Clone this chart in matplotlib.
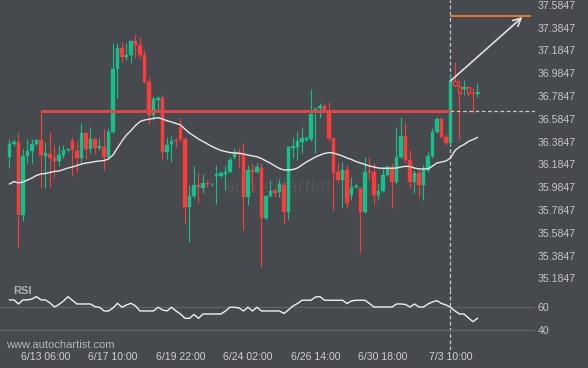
"""Autochartist-style breakout chart: candles, MA, resistance, forecast, RSI."""

import numpy as np
import matplotlib
matplotlib.use('Agg')
import matplotlib.pyplot as plt

plt.rcParams['font.family'] = ['Liberation Sans', 'DejaVu Sans']

# --- data (4h candles) ---
opens = [36.250, 36.364, 36.381, 35.741, 36.259, 36.302, 36.364, 36.399, 36.259, 36.276,
         36.244, 36.217, 36.267, 36.311, 36.390, 36.302, 36.244, 36.460, 36.317, 36.405,
         36.333, 36.340, 36.252, 36.472, 37.019, 37.203, 37.130, 37.145, 37.267, 37.232,
         37.145, 36.910, 36.618, 36.750, 36.765, 36.296, 36.367, 36.399, 36.510, 36.408,
         35.814, 35.908, 36.004, 35.980, 36.024, 36.009, 36.086, 36.086, 36.101, 36.121,
         36.247, 36.296, 36.276, 35.901, 36.136, 36.121, 36.156, 35.717, 35.910, 35.952,
         35.943, 36.004, 35.770, 36.329, 36.335, 36.384, 36.399, 36.405, 36.647, 36.677,
         36.697, 36.647, 36.414, 36.121, 36.048, 36.136, 35.917, 35.989, 35.980, 35.770,
         36.127, 36.121, 35.917, 35.952, 36.092, 36.165, 36.033, 36.252, 36.434, 36.223,
         36.031, 36.107, 36.004, 36.136, 36.259, 36.472, 36.581, 36.428, 36.375, 36.917,
         36.873, 36.852, 36.861, 36.814, 36.809]
highs = [36.408, 36.408, 36.460, 36.320, 36.408, 36.408, 36.408, 36.653, 36.381, 36.469,
         36.355, 36.355, 36.355, 36.329, 36.425, 36.390, 36.548, 36.469, 36.513, 36.428,
         36.417, 36.495, 36.504, 37.247, 37.250, 37.261, 37.250, 37.267, 37.329, 37.305,
         37.188, 36.954, 36.785, 36.785, 36.794, 36.428, 36.434, 36.417, 36.589, 36.425,
         36.004, 36.171, 36.107, 36.101, 36.048, 36.022, 36.180, 36.127, 36.171, 36.250,
         36.329, 36.329, 36.373, 36.180, 36.197, 36.197, 36.195, 35.910, 36.048, 35.975,
         36.054, 36.033, 36.346, 36.425, 36.472, 36.516, 36.434, 36.844, 36.691, 36.726,
         36.715, 36.735, 36.428, 36.195, 36.209, 36.180, 36.077, 36.022, 35.980, 36.250,
         36.252, 36.197, 36.022, 36.162, 36.180, 36.195, 36.516, 36.603, 36.560, 36.311,
         36.136, 36.136, 36.180, 36.294, 36.504, 36.601, 36.601, 36.452, 36.984, 37.086,
         36.925, 36.925, 36.873, 36.852, 36.896]
lows = [36.153, 36.346, 35.460, 35.688, 36.197, 36.197, 36.355, 35.987, 35.978, 35.987,
        36.074, 36.171, 36.241, 36.294, 36.083, 36.118, 36.197, 36.232, 36.285, 36.276,
        36.311, 36.136, 36.241, 36.460, 36.767, 37.086, 37.101, 37.074, 37.118, 37.116,
        36.899, 36.539, 36.574, 36.662, 36.223, 36.230, 36.209, 36.340, 36.384, 35.674,
        35.507, 35.890, 35.849, 35.937, 35.987, 35.995, 35.838, 36.074, 35.960, 36.109,
        36.232, 36.165, 35.609, 35.829, 35.945, 36.109, 35.288, 35.697, 35.899, 35.901,
        35.901, 35.674, 35.703, 36.241, 36.223, 36.282, 36.390, 36.390, 36.282, 36.589,
        36.645, 36.390, 35.785, 36.031, 35.811, 35.800, 35.873, 35.978, 35.410, 35.759,
        36.048, 35.829, 35.873, 35.943, 36.083, 35.800, 36.013, 36.241, 36.206, 35.978,
        35.934, 35.899, 35.873, 36.118, 36.241, 36.460, 36.417, 36.355, 36.355, 36.864,
        36.399, 36.794, 36.785, 36.633, 36.779]
closes = [36.364, 36.381, 35.741, 36.259, 36.302, 36.364, 36.399, 36.267, 36.285, 36.244,
          36.217, 36.267, 36.311, 36.320, 36.307, 36.244, 36.460, 36.317, 36.405, 36.331,
          36.342, 36.252, 36.472, 37.019, 37.203, 37.130, 37.145, 37.267, 37.232, 37.145,
          36.910, 36.618, 36.756, 36.765, 36.296, 36.355, 36.390, 36.390, 36.408, 35.814,
          35.908, 36.004, 35.984, 36.024, 36.013, 36.016, 36.101, 36.109, 36.121, 36.223,
          36.296, 36.276, 35.901, 36.136, 36.121, 36.165, 35.717, 35.910, 35.952, 35.931,
          36.013, 35.770, 36.335, 36.346, 36.390, 36.414, 36.414, 36.627, 36.668, 36.697,
          36.662, 36.414, 36.107, 36.048, 36.136, 35.844, 35.989, 35.998, 35.770, 36.121,
          36.118, 35.917, 35.952, 36.092, 36.165, 36.033, 36.252, 36.434, 36.223, 36.031,
          36.107, 36.004, 36.136, 36.259, 36.472, 36.581, 36.428, 36.375, 36.917, 36.881,
          36.809, 36.861, 36.814, 36.809, 36.823]

moving_avg = [36.013, 36.035, 36.022, 36.031, 36.048, 36.066, 36.088, 36.101, 36.105, 36.114,
              36.123, 36.127, 36.140, 36.153, 36.162, 36.175, 36.188, 36.197, 36.202, 36.210,
              36.215, 36.219, 36.232, 36.267, 36.329, 36.390, 36.443, 36.482, 36.526, 36.560,
              36.574, 36.581, 36.588, 36.595, 36.583, 36.568, 36.557, 36.544, 36.531, 36.495,
              36.460, 36.434, 36.408, 36.386, 36.364, 36.342, 36.324, 36.307, 36.298, 36.289,
              36.285, 36.282, 36.276, 36.267, 36.259, 36.252, 36.237, 36.215, 36.195, 36.171,
              36.149, 36.136, 36.136, 36.140, 36.153, 36.180, 36.206, 36.228, 36.250, 36.267,
              36.281, 36.288, 36.285, 36.272, 36.259, 36.241, 36.228, 36.210, 36.197, 36.184,
              36.171, 36.162, 36.153, 36.151, 36.151, 36.151, 36.153, 36.162, 36.168, 36.166,
              36.153, 36.145, 36.145, 36.145, 36.171, 36.197, 36.206, 36.215, 36.241, 36.307,
              36.338, 36.359, 36.386, 36.403, 36.421]

rsi = [65.8, 65.8, 62.3, 65.8, 65.8, 66.6, 68.6, 65.8, 65.8, 63.2,
       59.7, 61.9, 64.9, 68.6, 65.3, 62.3, 62.3, 62.3, 62.3, 60.0,
       59.5, 56.3, 56.3, 58.9, 62.9, 59.5, 61.5, 62.9, 60.6, 56.3,
       56.3, 56.3, 56.3, 59.5, 57.2, 56.3, 59.5, 56.3, 53.7, 50.0,
       50.0, 53.3, 50.0, 53.7, 53.7, 53.7, 53.7, 53.7, 56.3, 59.5,
       59.5, 58.9, 56.3, 59.5, 56.3, 59.5, 56.3, 56.3, 56.3, 56.3,
       56.3, 54.2, 57.2, 60.6, 62.7, 65.5, 65.5, 65.5, 68.3, 68.6,
       65.5, 65.5, 65.5, 65.5, 65.5, 62.7, 64.9, 65.5, 65.5, 65.5,
       62.7, 59.7, 59.7, 59.7, 59.7, 59.7, 62.3, 62.3, 61.9, 59.7,
       62.3, 59.7, 59.7, 62.3, 64.0, 65.2, 62.7, 61.5, 59.5, 56.3,
       53.7, 53.7, 50.3, 47.1, 50.0]

tick_idx = [8, 23, 38, 53, 68, 83, 98]
tick_labels = ['6/13 06:00', '6/17 10:00', '6/19 22:00', '6/24 02:00',
               '6/26 14:00', '6/30 18:00', '7/3 10:00']

resistance = 36.653
res_start, breakout = 7, 98
target = 37.487
arrow_end = (114, 37.478)
pattern_end = 98   # candles after this are drawn hollow

# --- style ---
BG = '#46494e'
GREEN = '#17c08b'
RED = '#ff3c3c'
TXT = '#c6c7ca'

fig = plt.figure(figsize=(5.88, 3.68), dpi=100, facecolor=BG)
ax = fig.add_axes([0, (368 - 290) / 368, 535 / 588, 290 / 368])
ax_rsi = fig.add_axes([0, (368 - 350) / 368, 535 / 588, 60 / 368])

for a in (ax, ax_rsi):
    a.set_facecolor(BG)
    for s in a.spines.values():
        s.set_visible(False)
    a.set_xlim(-2.11, 116.78)

x = np.arange(len(opens))
o = np.array(opens)
c = np.array(closes)
up = c >= o
colors = np.where(up, GREEN, RED)

ax.vlines(x, lows, highs, colors=colors, linewidth=0.8, zorder=2)
bottoms = np.minimum(o, c)
heights = np.maximum(np.abs(c - o), 0.004)
solid = x <= pattern_end
ax.bar(x[solid], heights[solid], bottom=bottoms[solid], width=0.85,
       color=colors[solid], edgecolor=colors[solid], linewidth=0.3, zorder=3)
ax.bar(x[~solid], heights[~solid], bottom=bottoms[~solid], width=0.8,
       color=BG, edgecolor=colors[~solid], linewidth=0.9, zorder=3)

ax.plot(x, moving_avg, color='#e8e8e8', linewidth=1.0, zorder=4)

# resistance line and its extension
ax.hlines(resistance, res_start, breakout, colors='#d8484b', linewidth=2.2, zorder=5)
ax.hlines(resistance, breakout, 116.78, colors='#c8c8c8', linewidth=0.9,
          linestyles=(0, (3, 2)), zorder=4)
ax.hlines(target, breakout, 115.8, colors='#f07a2c', linewidth=1.3, zorder=5)
ax.annotate('', xy=arrow_end, xytext=(breakout, closes[breakout]),
            arrowprops=dict(arrowstyle='->', color='#e0e0e0', lw=1.2,
                            mutation_scale=14, shrinkA=0, shrinkB=0), zorder=6)

# faint watermark
ax.text(47.5, 35.985, 'autochartist', color='#515459', fontsize=15,
        ha='left', va='center', zorder=1)

ax.set_ylim(35.083, 37.627)
price_ticks = np.round(35.1847 + 0.2 * np.arange(13), 4)
ax.set_yticks(price_ticks)
ax.set_yticklabels([f'{v:.4f}' for v in price_ticks])
ax.yaxis.tick_right()
ax.tick_params(axis='y', length=0, pad=2, labelsize=7.6, labelcolor=TXT)
ax.set_xticks([])

# breakout marker across both panels
for a in (ax, ax_rsi):
    a.axvline(breakout, color='#c8c8c8', linewidth=0.9, linestyle=(0, (3, 2)), zorder=1)

# RSI panel
ax_rsi.axhline(60, color='#5e6166', linewidth=0.9, zorder=1)
ax_rsi.axhline(40, color='#5e6166', linewidth=0.9, zorder=1)
ax_rsi.plot(x, rsi, color='#f0f0f0', linewidth=1.0, zorder=3)
ax_rsi.set_ylim(22.8, 74.3)
ax_rsi.set_yticks([40, 60])
ax_rsi.yaxis.tick_right()
ax_rsi.tick_params(axis='y', length=0, pad=2, labelsize=7.6, labelcolor=TXT)
ax_rsi.set_xticks(tick_idx)
ax_rsi.set_xticklabels(tick_labels)
ax_rsi.tick_params(axis='x', length=0, pad=1.5, labelsize=7.6, labelcolor='#cfd0d2')

fig.text(13 / 588, 1 - 291 / 368, 'RSI', color='#aeb0b4', fontsize=8,
         fontweight='bold', va='center', ha='left')
fig.text(6 / 588, 1 - 345 / 368, 'www.autochartist.com', color='#b4b5b8',
         fontsize=8, va='center', ha='left')

fig.savefig('out.png', dpi=100, facecolor=BG)
